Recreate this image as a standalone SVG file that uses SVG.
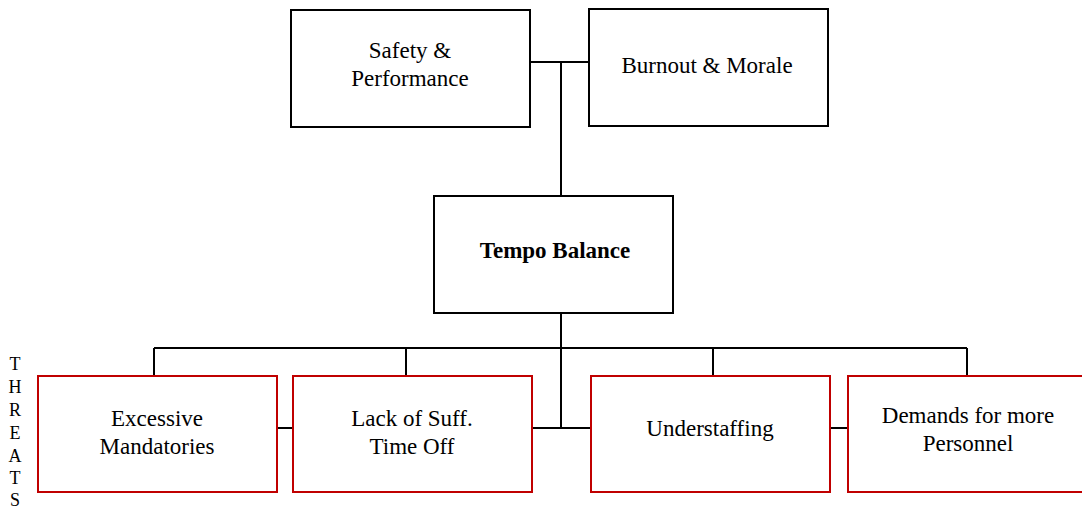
<svg xmlns="http://www.w3.org/2000/svg" width="1082" height="510" viewBox="0 0 1082 510">
<style>
.box{fill:#fff;stroke:#000;stroke-width:2}
.threat{fill:#fff;stroke:#c00000;stroke-width:2}
.t{font-family:"Liberation Serif","Times New Roman",serif;font-size:23px;fill:#000;text-anchor:middle}
.b{font-weight:bold}
.l{font-family:"Liberation Serif","Times New Roman",serif;font-size:18px;fill:#000;text-anchor:middle}
.c{stroke:#000;stroke-width:2;fill:none}
</style>
<rect width="1082" height="510" fill="#fff"/>
<g id="connectors">
<path class="c" d="M530 62H589M561 62V196"/>
<path class="c" d="M561 313V428M154 348H967M154 348V376M406 348V376M713 348V376M967 348V376"/>
<path class="c" d="M532 428H591M277 428H293M830 428H848"/>
</g>
<g id="safety"><rect class="box" x="291" y="10" width="239" height="117"/><text class="t" x="410" y="58">Safety &amp;</text><text class="t" x="410" y="86">Performance</text></g>
<g id="burnout"><rect class="box" x="589" y="9" width="239" height="117"/><text class="t" x="707" y="73">Burnout &amp; Morale</text></g>
<g id="tempo"><rect class="box" x="434" y="196" width="239" height="117"/><text class="t b" x="555" y="258">Tempo Balance</text></g>
<g id="excessive"><rect class="threat" x="38" y="376" width="239" height="116"/><text class="t" x="157" y="426">Excessive</text><text class="t" x="157" y="454">Mandatories</text></g>
<g id="lack"><rect class="threat" x="293" y="376" width="239" height="116"/><text class="t" x="412" y="426">Lack of Suff.</text><text class="t" x="412" y="454">Time Off</text></g>
<g id="understaffing"><rect class="threat" x="591" y="376" width="239" height="116"/><text class="t" x="710" y="436">Understaffing</text></g>
<g id="demands"><rect class="threat" x="848" y="376" width="240" height="116"/><text class="t" x="968" y="423">Demands for more</text><text class="t" x="968" y="451">Personnel</text></g>
<g id="threats-label">
<text class="l" x="15" y="370">T</text><text class="l" x="15" y="393">H</text><text class="l" x="15" y="416">R</text><text class="l" x="15" y="439">E</text><text class="l" x="15" y="462">A</text><text class="l" x="15" y="484">T</text><text class="l" x="15" y="506">S</text>
</g>
</svg>
